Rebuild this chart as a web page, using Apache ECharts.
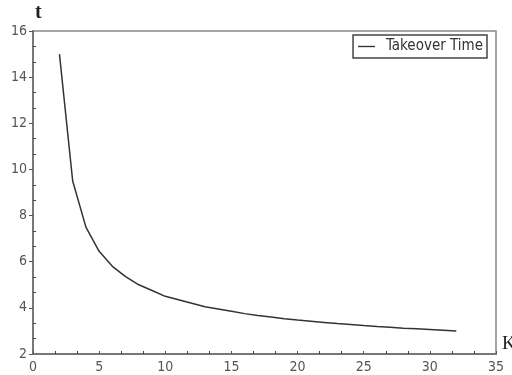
<!DOCTYPE html>
<html><head><meta charset="utf-8">
<script src="https://cdn.jsdelivr.net/npm/echarts@6/dist/echarts.min.js"></script>
<style>html,body{margin:0;padding:0;background:#fff}#c{width:512px;height:375px}</style>
</head><body><div id="c"></div>
<script>
const kValues = [2,3,4,5,6,7,8,9,10,11,12,13,14,15,16,17,18,19,20,21,22,23,24,25,26,27,28,29,30,31,32];
const takeoverTime = [15.0,9.5,7.5,6.45,5.8,5.35,5.0,4.75,4.5,4.35,4.2,4.05,3.95,3.85,3.75,3.67,3.6,3.53,3.47,3.42,3.37,3.32,3.28,3.23,3.19,3.16,3.12,3.09,3.06,3.03,3.0];
const seriesName = 'Takeover Time';
const xTicks = [0,5,10,15,20,25,30,35];
const yTicks = [2,4,6,8,10,12,14,16];

const chart = echarts.init(document.getElementById('c'), null, {renderer:'canvas'});
const fam = '"DejaVu Sans Condensed", "Liberation Sans", sans-serif';
const labelFont = {color:'#555', fontSize:14, fontFamily:fam};
chart.setOption({
  animation:false,
  grid:{left:33, top:31, right:16, bottom:21, show:true, borderColor:'#888', borderWidth:1.5, containLabel:false, outerBoundsMode:'none'},
  legend:{
    show:true, right:25, top:35, orient:'horizontal',
    data:[seriesName], icon:'path://M0,0 L1,0 L1,0.08 L0,0.08 Z',
    itemWidth:17, itemHeight:2, itemGap:4,
    borderColor:'#444', borderWidth:1.5, borderRadius:0, padding:[4,4,4,5],
    textStyle:{color:'#333', fontSize:15, fontFamily:fam, padding:[0,0,0,6]}
  },
  xAxis:{
    type:'value', min:xTicks[0], max:xTicks[xTicks.length-1], interval:5,
    name:'K', nameLocation:'end', nameGap:6,
    nameTextStyle:{color:'#222', fontSize:19, fontFamily:'Liberation Serif, serif', align:'left', verticalAlign:'bottom', padding:[0,0,0,0]},
    axisLine:{lineStyle:{color:'#777', width:2}},
    axisTick:{show:true, length:-3, lineStyle:{color:'#555'}},
    minorTick:{show:true, splitNumber:3, length:-3, lineStyle:{color:'#444'}},
    splitLine:{show:false},
    axisLabel:{...labelFont, margin:6}
  },
  yAxis:{
    type:'value', min:yTicks[0], max:yTicks[yTicks.length-1], interval:2,
    name:'t', nameLocation:'end', nameGap:8,
    nameTextStyle:{color:'#222', fontSize:20, fontWeight:'bold', fontFamily:'Liberation Serif, serif', align:'left', padding:[0,0,0,2]},
    axisLine:{lineStyle:{color:'#777', width:2}},
    axisTick:{show:true, length:4, lineStyle:{color:'#555'}},
    minorTick:{show:true, splitNumber:3, length:-3, lineStyle:{color:'#444'}},
    splitLine:{show:false},
    axisLabel:{...labelFont, margin:6}
  },
  series:[{
    name:seriesName, type:'line', showSymbol:false,
    data:kValues.map((k,i)=>[k,takeoverTime[i]]),
    lineStyle:{color:'#333', width:1.5}, itemStyle:{color:'#333'}
  }]
});
</script></body></html>
